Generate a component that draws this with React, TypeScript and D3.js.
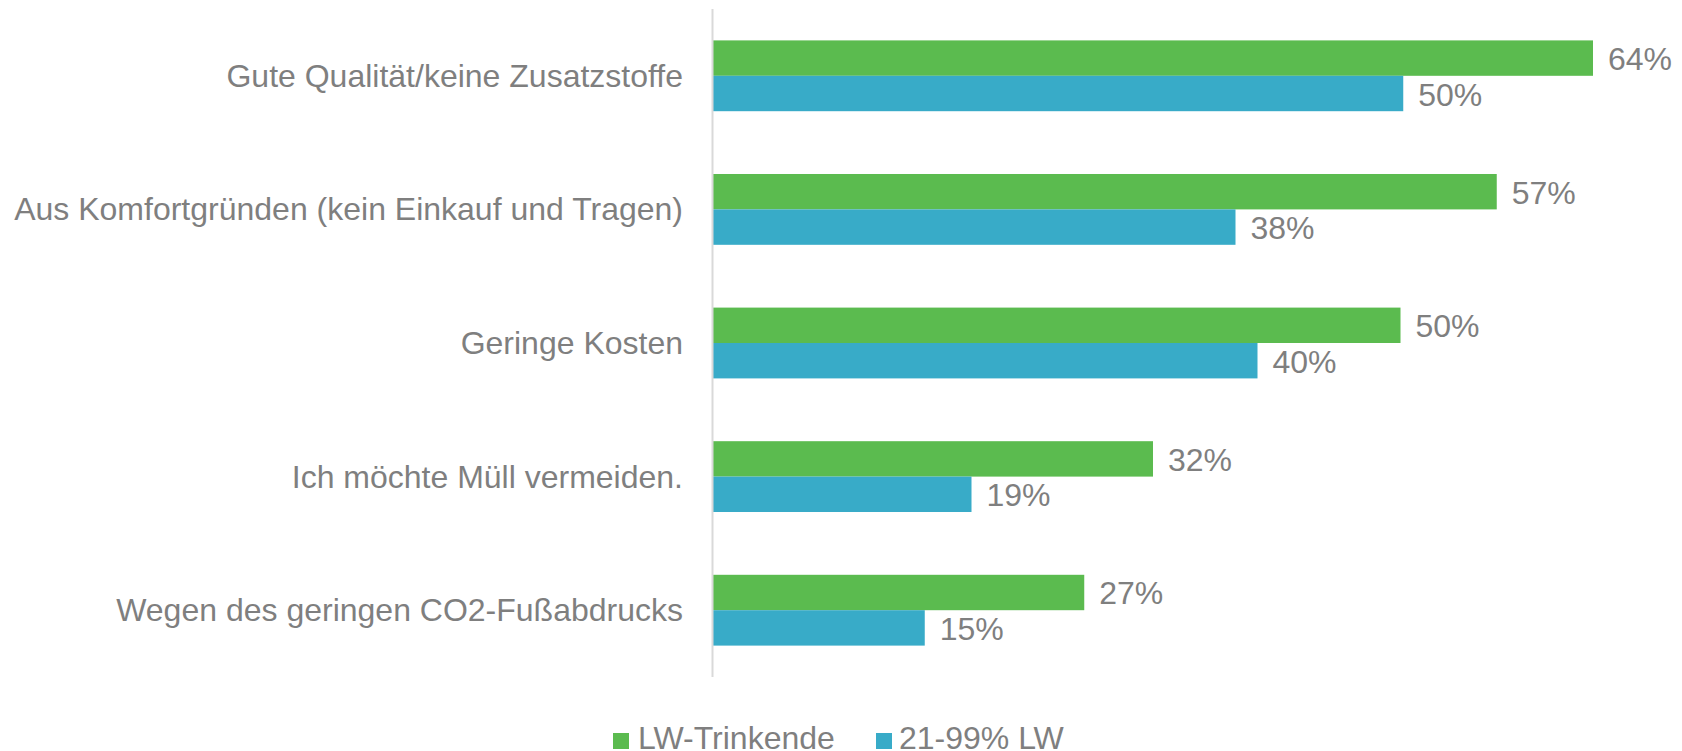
import React from "react";
import * as d3 from "d3";

const categories = [
  "Gute Qualität/keine Zusatzstoffe",
  "Aus Komfortgründen (kein Einkauf und Tragen)",
  "Geringe Kosten",
  "Ich möchte Müll vermeiden.",
  "Wegen des geringen CO2-Fußabdrucks",
];
const seriesNames = ["LW-Trinkende", "21-99% LW"];
const lwTrinkende = [64, 57, 50, 32, 27];
const lw21to99 = [50.2, 38, 39.6, 18.8, 15.4];
const colors = ["#5BBB4F", "#38ABC8"];

const W = 1682;
const H = 751;
const axisX = 712.5;
const top = 9;
const bottom = 677;
const FONT = "'Liberation Sans', Arial, sans-serif";
const TEXT = "#7F7F7F";
const fmt = (v: number) => `${Math.round(v)}%`;

export default function App() {
  const series = [lwTrinkende, lw21to99];
  const y = d3
    .scaleBand<string>()
    .domain(categories)
    .range([top, bottom])
    .paddingInner(0.47)
    .paddingOuter(0.235);
  const inner = d3
    .scaleBand<number>()
    .domain([0, 1])
    .range([0, y.bandwidth()]);
  const x = d3.scaleLinear().domain([0, 64]).range([axisX + 0.5, 1593]);

  const legendItems = [
    { x: 613, textX: 638 },
    { x: 876, textX: 899 },
  ];

  return (
    <svg
      width={W}
      height={H}
      style={{ position: "absolute", left: 0, top: 0, display: "block" }}
      fontFamily={FONT}
    >
      <rect width={W} height={H} fill="#fff" />
      {categories.map((c, ci) => (
        <g key={c}>
          <text
            x={683}
            y={(y(c) as number) + y.bandwidth() / 2}
            textAnchor="end"
            dominantBaseline="central"
            fontSize={32}
            fill={TEXT}
          >
            {c}
          </text>
          {series.map((s, si) => {
            const by = (y(c) as number) + (inner(si) as number);
            const bh = inner.bandwidth();
            return (
              <g key={si}>
                <rect
                  x={x(0)}
                  y={by}
                  width={x(s[ci]) - x(0)}
                  height={bh}
                  fill={colors[si]}
                />
                <text
                  x={x(s[ci]) + 15}
                  y={by + bh / 2 + 1}
                  dominantBaseline="central"
                  fontSize={32}
                  fill={TEXT}
                >
                  {fmt(s[ci])}
                </text>
              </g>
            );
          })}
        </g>
      ))}
      <line
        x1={axisX}
        x2={axisX}
        y1={top}
        y2={bottom}
        stroke="#D9D9D9"
        strokeWidth={2}
      />
      {seriesNames.map((n, i) => (
        <g key={n}>
          <rect x={legendItems[i].x} y={733} width={16} height={16} fill={colors[i]} />
          <text x={legendItems[i].textX} y={749} fontSize={32} fill={TEXT}>
            {n}
          </text>
        </g>
      ))}
    </svg>
  );
}
